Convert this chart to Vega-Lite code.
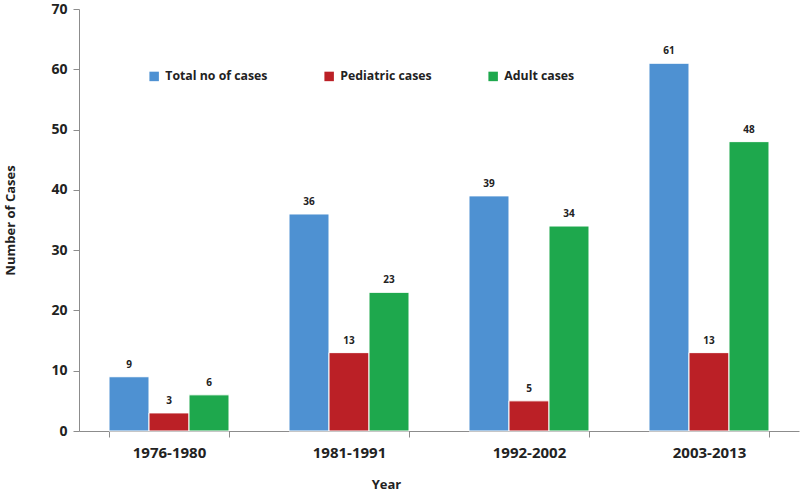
{
  "$schema": "https://vega.github.io/schema/vega-lite/v6.json",
  "width": 720,
  "height": 422,
  "autosize": {"type": "none"},
  "padding": {"left": 79, "top": 9, "right": 1, "bottom": 62},
  "background": "white",
  "config": {
    "view": {"stroke": null},
    "font": "Open Sans",
    "axis": {"domainColor": "#8c8c8c", "tickColor": "#8c8c8c", "labelFont": "Open Sans", "titleFont": "Open Sans", "labelFontWeight": "bold", "titleFontWeight": "bold", "labelColor": "#222", "titleColor": "#222", "grid": false}
  },
  "data": {
    "values": [
      {"period": "1976-1980", "type": "Total no of cases", "cases": 9},
      {"period": "1976-1980", "type": "Pediatric cases", "cases": 3},
      {"period": "1976-1980", "type": "Adult cases", "cases": 6},
      {"period": "1981-1991", "type": "Total no of cases", "cases": 36},
      {"period": "1981-1991", "type": "Pediatric cases", "cases": 13},
      {"period": "1981-1991", "type": "Adult cases", "cases": 23},
      {"period": "1992-2002", "type": "Total no of cases", "cases": 39},
      {"period": "1992-2002", "type": "Pediatric cases", "cases": 5},
      {"period": "1992-2002", "type": "Adult cases", "cases": 34},
      {"period": "2003-2013", "type": "Total no of cases", "cases": 61},
      {"period": "2003-2013", "type": "Pediatric cases", "cases": 13},
      {"period": "2003-2013", "type": "Adult cases", "cases": 48}
    ]
  },
  "encoding": {
    "x": {
      "field": "period", "type": "nominal", "sort": null,
      "scale": {"paddingInner": 0.3333, "paddingOuter": 0.1667},
      "axis": {"title": "Year", "labelAngle": 0, "labelFontSize": 15, "labelPadding": 8, "tickBand": "extent", "tickSize": 6, "titleFontSize": 13, "titleX": 307, "titleY": 53, "titleBaseline": "middle"}
    },
    "xOffset": {"field": "type", "type": "nominal", "sort": ["Total no of cases", "Pediatric cases", "Adult cases"], "scale": {"paddingInner": 0, "paddingOuter": 0}},
    "y": {
      "field": "cases", "type": "quantitative",
      "scale": {"domain": [0, 70], "nice": false},
      "axis": {"title": "Number of Cases", "values": [0, 10, 20, 30, 40, 50, 60, 70], "labelFontSize": 14, "labelPadding": 6, "tickSize": 6, "titleFontSize": 13, "titleX": -69, "titleY": 211, "titleAngle": 270, "titleAlign": "center", "titleBaseline": "middle"}
    }
  },
  "layer": [
    {
      "mark": {"type": "bar", "stroke": "white", "strokeWidth": 1},
      "encoding": {
        "color": {
          "field": "type", "type": "nominal",
          "scale": {"domain": ["Total no of cases", "Pediatric cases", "Adult cases"], "range": ["#4E91D2", "#BB2026", "#1EA84D"]},
          "legend": {"title": null, "orient": "none", "legendX": 69, "legendY": 61, "direction": "horizontal", "symbolType": "square", "symbolSize": 90, "symbolStrokeWidth": 0, "labelFontSize": 12.3, "labelFontWeight": "bold", "labelFont": "Open Sans", "labelColor": "#222", "columnPadding": 55, "labelOffset": 5}
        }
      }
    },
    {
      "mark": {"type": "text", "baseline": "bottom", "dy": -7, "fontSize": 10, "fontWeight": "bold", "color": "#222"},
      "encoding": {"text": {"field": "cases", "type": "quantitative"}}
    }
  ]
}
